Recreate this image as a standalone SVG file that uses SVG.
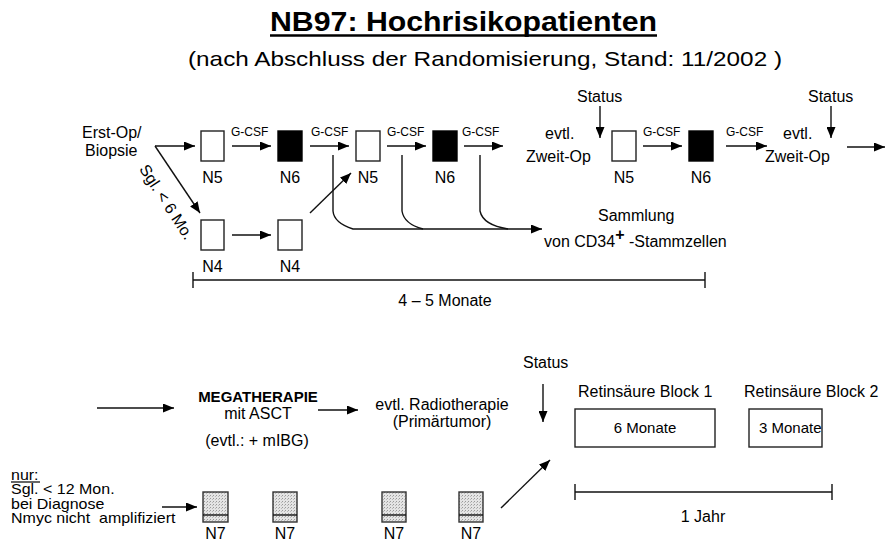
<svg xmlns="http://www.w3.org/2000/svg" width="886" height="546" viewBox="0 0 886 546">
<defs>
<marker id="ah" markerUnits="userSpaceOnUse" markerWidth="11" markerHeight="9" refX="11" refY="4.5" orient="auto">
<path d="M0,0 L11,4.5 L0,9 z" fill="#000"/>
</marker>
<pattern id="dots" width="3" height="3" patternUnits="userSpaceOnUse">
<rect width="3" height="3" fill="#e4e4e4"/>
<rect width="1" height="1" fill="#9a9a9a"/>
<rect x="2" y="1" width="1" height="1" fill="#b8b8b8"/>
</pattern>
<style>
text{font-family:"Liberation Sans",Arial,sans-serif;fill:#000}
.t16{font-size:16px}
.t15{font-size:15px}
.g{font-size:12px}
.mid{text-anchor:middle}
.box{fill:#fff;stroke:#222;stroke-width:1.4}
.blk{fill:#000;stroke:#000;stroke-width:1.4}
.n7{fill:url(#dots);stroke:#333;stroke-width:1.4}
.ln{fill:none;stroke:#111;stroke-width:1.4}
.arr{fill:none;stroke:#111;stroke-width:1.4;marker-end:url(#ah)}
</style>
</defs>

<g id="title">
<text x="270" y="31" font-size="28" font-weight="bold" textLength="387" lengthAdjust="spacingAndGlyphs">NB97: Hochrisikopatienten</text>
<line x1="270" y1="35.5" x2="657" y2="35.5" stroke="#000" stroke-width="2.5"/>
<text x="188" y="66" font-size="21" textLength="594" lengthAdjust="spacingAndGlyphs">(nach Abschluss der Randomisierung, Stand: 11/2002 )</text>
</g>

<g id="start">
<text class="t16" x="82" y="138">Erst-Op/</text>
<text class="t16" x="85" y="156">Biopsie</text>
<text class="t16 mid" transform="translate(162,205) rotate(57)">Sgl. &lt; 6 Mo.</text>
</g>

<g id="n5a"><rect class="box" x="201" y="131" width="23" height="30"/><text class="t16 mid" x="212.5" y="183">N5</text></g>
<g id="n6a"><rect class="blk" x="278" y="131" width="24" height="30"/><text class="t16 mid" x="290" y="183">N6</text></g>
<g id="n5b"><rect class="box" x="356" y="131" width="24" height="30"/><text class="t16 mid" x="368" y="183">N5</text></g>
<g id="n6b"><rect class="blk" x="433" y="131" width="24" height="30"/><text class="t16 mid" x="445" y="183">N6</text></g>
<g id="op2a"><text class="t16" x="545" y="139">evtl.</text><text class="t16" x="526" y="162">Zweit-Op</text></g>
<g id="status1"><text class="t16" x="577" y="102">Status</text></g>
<g id="n5c"><rect class="box" x="612" y="131" width="24" height="30"/><text class="t16 mid" x="624" y="183">N5</text></g>
<g id="n6c"><rect class="blk" x="689" y="131" width="24" height="30"/><text class="t16 mid" x="701" y="183">N6</text></g>
<g id="op2b"><text class="t16" x="783" y="139">evtl.</text><text class="t16" x="765" y="162">Zweit-Op</text></g>
<g id="status2"><text class="t16" x="808" y="102">Status</text></g>

<g id="n4a"><rect class="box" x="201" y="220" width="23" height="30"/><text class="t16 mid" x="212.5" y="272">N4</text></g>
<g id="n4b"><rect class="box" x="278" y="220" width="24" height="30"/><text class="t16 mid" x="290" y="272">N4</text></g>

<g id="sammlung">
<text class="t16" x="598" y="221">Sammlung</text>
<text class="t16" x="544" y="247">von CD34<tspan dy="-7" font-weight="bold">+</tspan><tspan dy="7"> -Stammzellen</tspan></text>
</g>

<g id="dauer1">
<line class="ln" x1="193" y1="280" x2="705" y2="280"/>
<line class="ln" x1="193" y1="272" x2="193" y2="288"/>
<line class="ln" x1="705" y1="272" x2="705" y2="288"/>
<text class="t16 mid" x="445" y="306">4 – 5 Monate</text>
</g>

<g id="mega">
<text x="258" y="402" font-size="15" font-weight="bold" class="mid">MEGATHERAPIE</text>
<text class="t16 mid" x="258" y="419">mit ASCT</text>
<text class="t16 mid" x="257" y="446">(evtl.: + mIBG)</text>
</g>
<g id="radio">
<text class="t16 mid" x="442" y="410">evtl. Radiotherapie</text>
<text class="t16 mid" x="442" y="427">(Primärtumor)</text>
</g>
<g id="status3"><text class="t16" x="523" y="368">Status</text></g>

<g id="block1">
<text class="t16" x="578" y="397">Retinsäure Block 1</text>
<rect class="box" x="575" y="409" width="140" height="38"/>
<text class="t15 mid" x="645" y="433">6 Monate</text>
</g>
<g id="block2">
<text class="t16" x="744" y="397">Retinsäure Block 2</text>
<rect class="box" x="749" y="409" width="73" height="38"/>
<text class="t15" x="759" y="433">3 Monate</text>
</g>

<g id="dauer2">
<line class="ln" x1="575" y1="492" x2="832" y2="492"/>
<line class="ln" x1="575" y1="484" x2="575" y2="500"/>
<line class="ln" x1="832" y1="484" x2="832" y2="500"/>
<text class="t16 mid" x="703" y="522">1 Jahr</text>
</g>

<g id="nur">
<g transform="translate(11,480) scale(1,0.9)">
<text class="t16" x="0" y="0">nur:</text>
<text class="t16" x="0" y="16">Sgl. &lt; 12 Mon.</text>
<text class="t16" x="0" y="32">bei Diagnose</text>
<text class="t16" x="0" y="48" xml:space="preserve">Nmyc nicht  amplifiziert</text>
</g>
<line x1="11" y1="482" x2="40" y2="482" stroke="#000" stroke-width="1.2"/>
</g>

<g id="n7a"><rect class="n7" x="203" y="492" width="25" height="30"/><line class="ln" x1="203" y1="515" x2="228" y2="515"/><text class="t16 mid" x="215.5" y="539">N7</text></g>
<g id="n7b"><rect class="n7" x="273" y="492" width="24" height="30"/><line class="ln" x1="273" y1="515" x2="297" y2="515"/><text class="t16 mid" x="285" y="539">N7</text></g>
<g id="n7c"><rect class="n7" x="382" y="492" width="24" height="30"/><line class="ln" x1="382" y1="515" x2="406" y2="515"/><text class="t16 mid" x="394" y="539">N7</text></g>
<g id="n7d"><rect class="n7" x="459" y="492" width="24" height="30"/><line class="ln" x1="459" y1="515" x2="483" y2="515"/><text class="t16 mid" x="471" y="539">N7</text></g>

<g id="connectors">
<line class="arr" x1="155" y1="146" x2="195" y2="146"/>
<line class="arr" x1="155" y1="146" x2="200" y2="213"/>
<line class="arr" x1="232" y1="146" x2="271" y2="146"/>
<line class="arr" x1="310" y1="146" x2="349" y2="146"/>
<line class="arr" x1="387" y1="146" x2="426" y2="146"/>
<line class="arr" x1="464" y1="146" x2="503" y2="146"/>
<line class="arr" x1="600" y1="106" x2="600" y2="138"/>
<line class="arr" x1="643" y1="146" x2="682" y2="146"/>
<line class="arr" x1="726" y1="146" x2="767" y2="146"/>
<line class="arr" x1="831" y1="106" x2="831" y2="138"/>
<line class="arr" x1="847" y1="147" x2="885" y2="147"/>
<line class="arr" x1="232" y1="235" x2="271" y2="235"/>
<line class="arr" x1="310" y1="213" x2="351" y2="173"/>
<path class="arr" d="M333,155 V211 Q334,223 353,229 H542"/>
<path class="ln" d="M402,155 V211 Q404,224 423,229"/>
<path class="ln" d="M480,155 V211 Q483,225 508,229"/>
<line class="arr" x1="97" y1="408" x2="174" y2="408"/>
<line class="arr" x1="318" y1="410" x2="358" y2="410"/>
<line class="arr" x1="543" y1="384" x2="543" y2="422"/>
<line class="arr" x1="501" y1="508" x2="550" y2="460"/>
<line class="arr" x1="162" y1="507" x2="197" y2="507"/>
</g>

<g id="labels">
<text class="g" x="231" y="136">G-CSF</text>
<text class="g" x="311" y="136">G-CSF</text>
<text class="g" x="387" y="136">G-CSF</text>
<text class="g" x="462" y="136">G-CSF</text>
<text class="g" x="643" y="136">G-CSF</text>
<text class="g" x="726" y="136">G-CSF</text>
</g>
</svg>
